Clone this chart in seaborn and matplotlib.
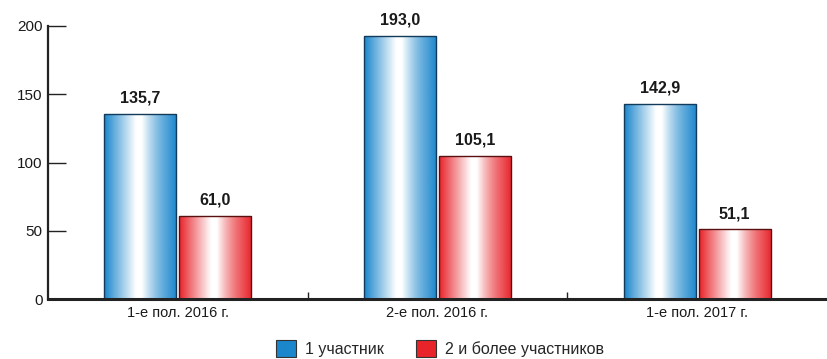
import numpy as np
import pandas as pd
import matplotlib
matplotlib.use("Agg")
import matplotlib.pyplot as plt
import seaborn as sns
from matplotlib.colors import LinearSegmentedColormap
from matplotlib.patches import Patch

categories = ["1-е пол. 2016 г.", "2-е пол. 2016 г.", "1-е пол. 2017 г."]
series_names = ["1 участник", "2 и более участников"]
values_one = [135.7, 193.0, 142.9]
values_two = [61.0, 105.1, 51.1]
y_ticks = [0, 50, 100, 150, 200]

df = pd.DataFrame({
    "cat": categories * 2,
    "series": [series_names[0]] * 3 + [series_names[1]] * 3,
    "value": values_one + values_two,
})

sns.set_theme(style="white")
plt.rcParams["font.family"] = ["Liberation Sans", "DejaVu Sans"]

fig = plt.figure(figsize=(8.27, 3.59), dpi=100)
ax = fig.add_axes([0.058, 0.167, 0.942, 0.7606])

base_colors = {series_names[0]: "#1a86cc", series_names[1]: "#e8232a"}
edge_colors = {series_names[0]: "#123a5a", series_names[1]: "#5a1010"}

sns.barplot(data=df, x="cat", y="value", hue="series", hue_order=series_names,
            palette=base_colors, width=0.578, gap=0.04, ax=ax, legend=False,
            saturation=1)

ax.set_xlim(-0.5, 2.5)
ax.set_ylim(0, 200)

patches = list(ax.patches)
for i, p in enumerate(patches):
    s = series_names[0] if i < 3 else series_names[1]
    x0, w, h = p.get_x(), p.get_width(), p.get_height()
    cmap = LinearSegmentedColormap.from_list(
        "g", [(0.0, base_colors[s]), (0.44, "#ffffff"), (0.52, "#ffffff"),
              (0.85, base_colors[s] + "c0"), (1.0, base_colors[s])])
    im = ax.imshow(np.linspace(0, 1, 256).reshape(1, -1), cmap=cmap, aspect="auto",
                   extent=[x0, x0 + w, 0, h], zorder=p.get_zorder() + 0.1)
    im.set_clip_path(p)
    p.set_facecolor("none")
    p.set_edgecolor(edge_colors[s])
    p.set_linewidth(1.0)
    p.set_zorder(p.get_zorder() + 0.2)
    ax.text(x0 + w / 2, h + 6, f"{h:.1f}".replace(".", ","), ha="center",
            va="bottom", fontsize=11.5, fontweight="bold", color="#1a1a1a")

ax.set_xlim(-0.5, 2.5)
ax.set_ylim(0, 200)

for side in ["top", "right"]:
    ax.spines[side].set_visible(False)
ax.spines["left"].set_linewidth(1.6)
ax.spines["left"].set_color("#222222")
ax.spines["bottom"].set_linewidth(2.2)
ax.spines["bottom"].set_color("#222222")

ax.set_yticks(y_ticks)
ax.set_yticklabels([str(v) for v in y_ticks], fontsize=11, color="#1a1a1a")
ax.tick_params(axis="y", direction="in", length=13, width=1.0, color="#222222", pad=4, left=True)
ax.set_xticks([0, 1, 2])
ax.set_xticklabels(categories, fontsize=10.5, color="#1a1a1a",
                   family=["Liberation Sans Narrow", "Liberation Sans", "DejaVu Sans"])
ax.tick_params(axis="x", length=0, pad=5)
ax.set_xticks([0.5, 1.5], minor=True)
ax.tick_params(axis="x", which="minor", direction="in", length=5, width=1.0,
               color="#222222", bottom=True)
ax.set_xlabel("")
ax.set_ylabel("")
ax.grid(False)

handles = [Patch(facecolor=base_colors[s], edgecolor="#333333", linewidth=0.8)
           for s in series_names]
fig.legend(handles, series_names, loc="lower center", bbox_to_anchor=(0.532, -0.035),
           ncol=2, frameon=False, fontsize=11.5, handlelength=1.25, handleheight=1.25,
           columnspacing=2.0, handletextpad=0.55)

fig.savefig("out.png", dpi=100)
